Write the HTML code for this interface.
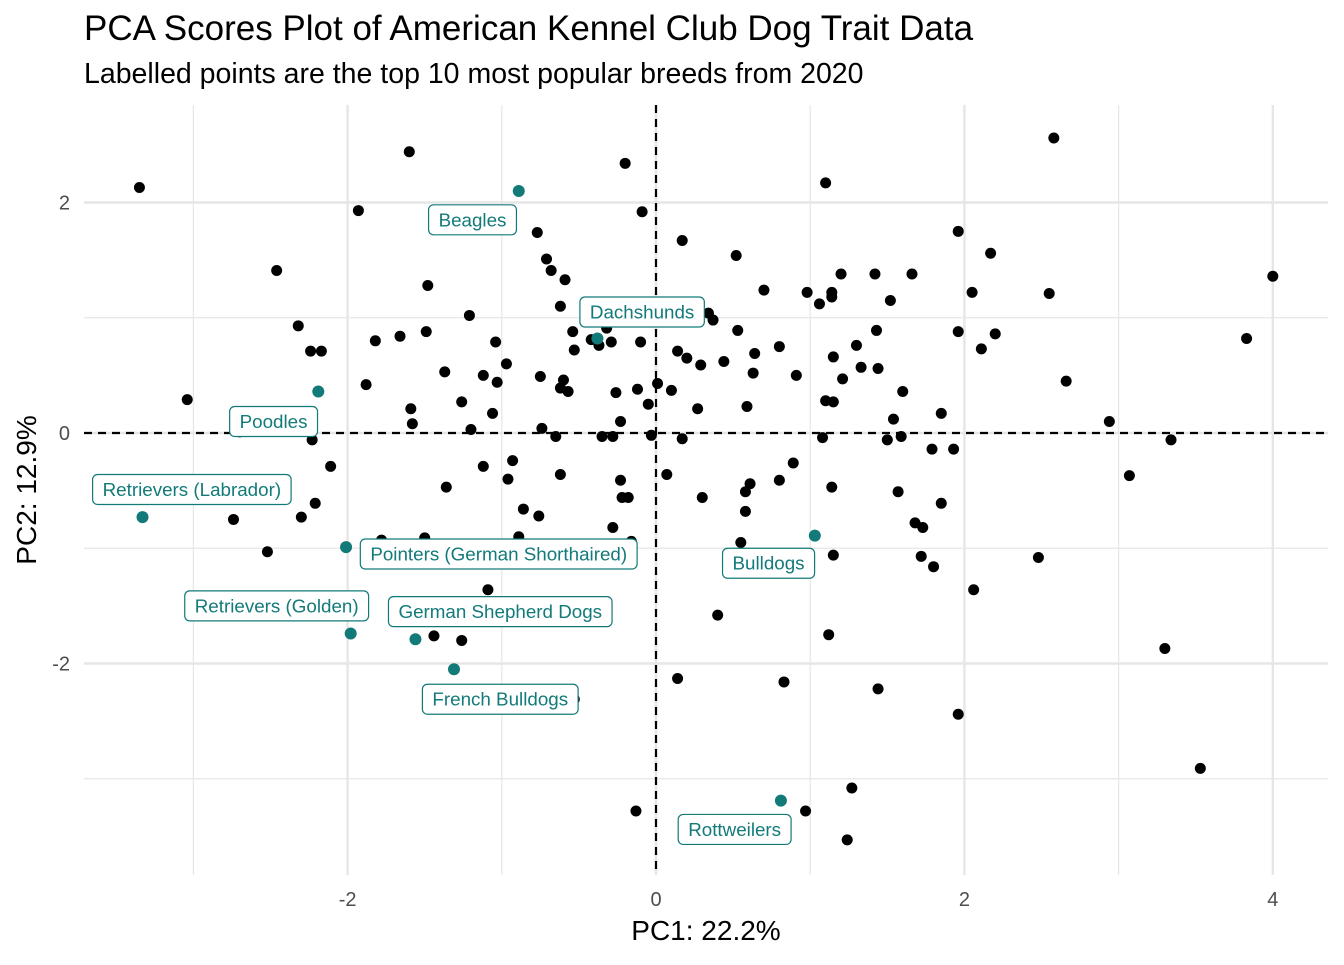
<!DOCTYPE html>
<html><head><meta charset="utf-8"><style>
body{margin:0;background:#fff;font-family:"Liberation Sans",sans-serif}
svg text{font-family:"Liberation Sans",sans-serif}
</style></head><body>
<svg id="chart" width="1344" height="960">
<text x="84" y="40" font-size="35" fill="#000">PCA Scores Plot of American Kennel Club Dog Trait Data</text>
<text x="84" y="83" font-size="28.5" fill="#000">Labelled points are the top 10 most popular breeds from 2020</text>
<g id="grid"></g><g id="axes"></g><g id="pts"></g><g id="labels"></g>
<text x="706" y="940" font-size="28" text-anchor="middle">PC1: 22.2%</text>
<text transform="translate(36,490) rotate(-90)" font-size="28" text-anchor="middle">PC2: 12.9%</text>
</svg>
<script>
const pcx=[-3.35,-1.60,-0.20,-1.93,-0.09,2.58,1.10,-3.04,-2.46,-0.77,-0.71,-0.68,-0.59,-1.48,0.17,0.52,1.96,2.17,2.55,2.05,4.00,3.83,0.70,0.98,1.14,1.14,1.06,1.20,1.42,1.66,1.52,-2.32,-2.24,-2.17,-1.82,-1.66,-1.49,-1.21,-1.04,-0.62,-0.54,-0.53,-0.42,-0.32,-0.29,-0.10,0.34,0.37,0.14,0.20,0.29,0.44,0.53,0.64,0.63,0.80,0.91,1.15,1.30,1.43,1.21,1.33,1.44,1.96,2.11,2.20,2.66,2.94,3.34,3.07,2.48,2.06,3.30,3.53,-1.88,-1.59,-1.58,-1.37,-1.26,-1.12,-1.03,-0.97,-1.06,-1.20,-1.12,-1.36,-0.93,-0.96,-0.75,-0.62,-0.60,-0.57,-0.74,-0.65,-0.62,-0.86,-0.76,-1.09,-0.89,-0.35,-0.28,-0.26,-0.23,-0.23,-0.22,-0.18,-0.28,-0.16,-0.12,-0.05,-0.03,0.01,0.10,0.17,0.07,0.30,0.27,0.59,0.61,0.58,0.58,0.55,0.80,0.89,1.08,1.10,1.15,1.14,1.15,1.12,1.54,1.60,1.50,1.59,1.57,1.68,1.73,1.72,1.80,1.85,1.79,1.93,1.85,1.96,1.44,1.27,1.24,0.97,0.83,0.14,0.40,-0.13,-0.53,-1.44,-1.26,-2.74,-2.52,-2.30,-2.21,-2.11,-2.23,-2.70,-1.78,-1.50,-0.37];
const pcy=[2.13,2.44,2.34,1.93,1.92,2.56,2.17,0.29,1.41,1.74,1.51,1.41,1.33,1.28,1.67,1.54,1.75,1.56,1.21,1.22,1.36,0.82,1.24,1.22,1.22,1.18,1.12,1.38,1.38,1.38,1.15,0.93,0.71,0.71,0.80,0.84,0.88,1.02,0.79,1.10,0.88,0.72,0.81,0.91,0.79,0.79,1.04,0.98,0.71,0.65,0.59,0.62,0.89,0.69,0.52,0.75,0.50,0.66,0.76,0.89,0.47,0.57,0.56,0.88,0.73,0.86,0.45,0.10,-0.06,-0.37,-1.08,-1.36,-1.87,-2.91,0.42,0.21,0.08,0.53,0.27,0.50,0.44,0.60,0.17,0.03,-0.29,-0.47,-0.24,-0.40,0.49,0.39,0.46,0.36,0.04,-0.03,-0.36,-0.66,-0.72,-1.36,-0.90,-0.03,-0.03,0.35,0.10,-0.41,-0.56,-0.56,-0.82,-0.94,0.38,0.25,-0.02,0.43,0.37,-0.05,-0.36,-0.56,0.21,0.23,-0.44,-0.51,-0.68,-0.95,-0.41,-0.26,-0.04,0.28,0.27,-0.47,-1.06,-1.75,0.12,0.36,-0.06,-0.03,-0.51,-0.78,-0.82,-1.07,-1.16,0.17,-0.14,-0.14,-0.61,-2.44,-2.22,-3.08,-3.53,-3.28,-2.16,-2.13,-1.58,-3.28,-2.31,-1.76,-1.80,-0.75,-1.03,-0.73,-0.61,-0.29,-0.06,0.01,-0.93,-0.91,0.76];
const breeds=["Beagles","Dachshunds","Poodles","Retrievers (Labrador)","Pointers (German Shorthaired)","Retrievers (Golden)","German Shepherd Dogs","French Bulldogs","Bulldogs","Rottweilers"];
const bx=[-0.89,-0.38,-2.19,-3.33,-2.01,-1.98,-1.56,-1.31,1.03,0.81];
const by=[2.10,0.82,0.36,-0.73,-0.99,-1.74,-1.79,-2.05,-0.89,-3.19];
const lx=[-1.19,-0.09,-2.48,-3.01,-1.02,-2.46,-1.01,-1.01,0.73,0.51];
const ly=[1.85,1.05,0.10,-0.49,-1.05,-1.50,-1.55,-2.31,-1.13,-3.44];
const xTicks=[-2,0,2,4];
const yTicks=[-2,0,2];
const NS="http://www.w3.org/2000/svg";
const X=v=>656+v*154.2, Y=v=>433-v*115.25;
const L=84,R=1328,T=105,B=875;
function mk(t,a,p){const e=document.createElementNS(NS,t);for(const k in a)e.setAttribute(k,a[k]);p.appendChild(e);return e;}
const grid=document.getElementById('grid'),axes=document.getElementById('axes'),pts=document.getElementById('pts'),lab=document.getElementById('labels');
for(let v=-3;v<=4;v++){const l=mk('line',{x1:X(v),x2:X(v),y1:T,y2:B,stroke:'#e6e6e6','stroke-width':v%2===0?2.4:1.2},grid);

}
for(let v=-3;v<=2;v++){const l=mk('line',{x1:L,x2:R,y1:Y(v),y2:Y(v),stroke:'#e6e6e6','stroke-width':v%2===0?2.4:1.2},grid);

}
xTicks.forEach(v=>{const t=mk('text',{x:X(v),y:906,'font-size':20,fill:'#4d4d4d','text-anchor':'middle'},axes);t.textContent=v;

});
yTicks.forEach(v=>{const t=mk('text',{x:70,y:Y(v)+7,'font-size':20,fill:'#4d4d4d','text-anchor':'end'},axes);t.textContent=v;

});
const hz=mk('line',{x1:L,x2:R,y1:Y(0),y2:Y(0),stroke:'#000','stroke-width':2.2,'stroke-dasharray':'8,6'},axes);


const vz=mk('line',{x1:X(0),x2:X(0),y1:T,y2:B,stroke:'#000','stroke-width':2.2,'stroke-dasharray':'8,6'},axes);


pcx.forEach((v,i)=>{const c=mk('circle',{cx:X(v),cy:Y(pcy[i]),r:5.5,fill:'#000'},pts);

});
breeds.forEach((b,i)=>{const c=mk('circle',{cx:X(bx[i]),cy:Y(by[i]),r:6,fill:'#137a7a'},pts);

});
breeds.forEach((b,i)=>{const g=mk('g',{},lab);


const t=mk('text',{x:X(lx[i]),y:Y(ly[i])+6.5,'font-size':18.8,fill:'#137a7a','text-anchor':'middle'},g);t.textContent=b;
const w=t.getComputedTextLength()+20;
const r=mk('rect',{x:X(lx[i])-w/2,y:Y(ly[i])-15,width:w,height:30,rx:5,fill:'#fff',stroke:'#137a7a','stroke-width':1.2},g);
g.insertBefore(r,t);});
</script>
</body></html>
